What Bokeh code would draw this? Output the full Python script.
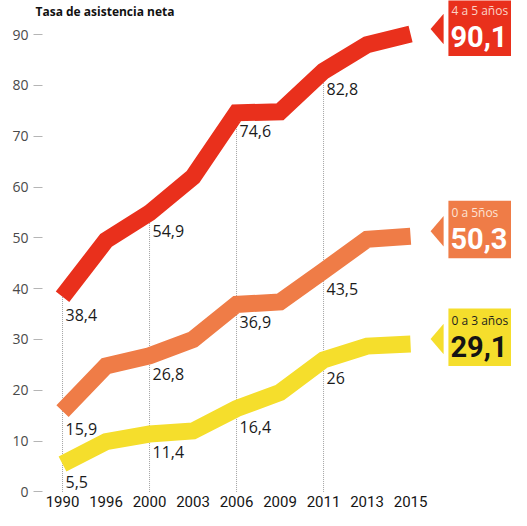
from bokeh.plotting import figure
from bokeh.models import FixedTicker, Range1d
from bokeh.core.properties import value
from bokeh.embed import file_html
from bokeh.resources import INLINE

# ---- data ----
years = ["1990", "1996", "2000", "2003", "2006", "2009", "2011", "2013", "2015"]
red_4a5 = [38.4, 49.5, 54.9, 62.0, 74.6, 74.8, 82.8, 88.0, 90.1]
orange_0a5 = [15.9, 24.8, 26.8, 30.0, 36.9, 37.4, 43.5, 49.7, 50.3]
yellow_0a3 = [5.5, 9.9, 11.4, 12.0, 16.4, 19.6, 26.0, 28.7, 29.1]
series_names = ["4 a 5 años", "0 a 5ños", "0 a 3 años"]
labeled_idx = [0, 2, 4, 6]
y_ticks = [0, 10, 20, 30, 40, 50, 60, 70, 80, 90]
title_text = "Tasa de asistencia neta"

series = [red_4a5, orange_0a5, yellow_0a3]
colors = ["#e9301c", "#ef7c47", "#f5de2c"]
small_colors = ["#fbd3c6", "#fde3d4", "#1e1e1e"]
big_colors = ["#ffffff", "#ffffff", "#141414"]

xs = list(range(len(years)))
last = xs[-1]

Y0, Y1 = -0.5, 96.7
PX_PER_UNIT = 5.07
p = figure(width=511, height=510, output_backend="svg", toolbar_location=None,
           x_range=Range1d(-0.667, 10.32), y_range=Range1d(Y0, Y1),
           min_border_left=33, min_border_right=0, min_border_top=0,
           min_border_bottom=16)
p.outline_line_color = None
p.grid.visible = False
p.background_fill_color = "white"
p.border_fill_color = "white"

# y axis
p.yaxis.ticker = FixedTicker(ticks=y_ticks)
p.yaxis.axis_line_color = None
p.yaxis.major_tick_out = 0
p.yaxis.major_tick_in = 9
p.yaxis.minor_tick_line_color = None
p.yaxis.major_tick_line_color = "#b5b5b5"
p.yaxis.major_label_standoff = 5
p.yaxis.major_label_text_font = "Open Sans"
p.yaxis.major_label_text_font_size = "14px"
p.yaxis.major_label_text_color = "#4a4a4a"

# x axis
p.xaxis.ticker = FixedTicker(ticks=xs)
p.xaxis.major_label_overrides = {i: y for i, y in zip(xs, years)}
p.xaxis.axis_line_color = None
p.xaxis.major_tick_line_color = None
p.xaxis.minor_tick_line_color = None
p.xaxis.major_tick_out = 0
p.xaxis.major_tick_in = 0
p.xaxis.major_label_standoff = 1
p.xaxis.major_label_text_font = "Roboto"
p.xaxis.major_label_text_font_size = "15px"
p.xaxis.major_label_text_color = "#151515"

# dotted reference verticals
p.segment(x0=[xs[i] for i in labeled_idx], x1=[xs[i] for i in labeled_idx],
          y0=[0] * len(labeled_idx), y1=[red_4a5[i] for i in labeled_idx],
          line_color="#8a8a8a", line_width=0.8, line_dash="1 1")

# thick lines
for vals, col in zip(series, colors):
    p.line(xs, vals, line_width=17, line_color=col, line_join="miter", line_cap="butt")

# value labels
def fmt(v):
    return f"{v:g}".replace(".", ",")

for vals in series:
    p.text(x=[xs[i] for i in labeled_idx], y=[vals[i] for i in labeled_idx],
           text=[fmt(vals[i]) for i in labeled_idx],
           text_font=value("Open Sans"), text_font_size="16px",
           text_color="#1b1b1b", text_baseline="middle", text_align="left",
           x_offset=3, y_offset=18)

# end boxes with pointer
tip_x = last + 0.46
base_x = last + 0.76
box_l = last + 0.87
ends = [s[-1] for s in series]
p.patches(xs=[[tip_x, base_x, base_x] for _ in ends],
          ys=[[v + 1, v + 4, v - 2] for v in ends],
          fill_color=colors, line_color=None)
p.quad(left=[box_l] * 3, right=[last + 3] * 3,
       bottom=[v - 4.3 for v in ends], top=[v + 7 for v in ends],
       fill_color=colors, line_color=None)
for v, name, sc, bc in zip(ends, series_names, small_colors, big_colors):
    p.text(x=[box_l], y=[v + 4.7], text=[name], text_font=value("Open Sans"),
           text_font_size="12px", text_color=sc, text_baseline="middle",
           text_align="left", x_offset=3)
    p.text(x=[box_l], y=[v - 0.4], text=[fmt(v)], text_font=value("Roboto"),
           text_font_size="29px", text_font_style="bold", text_color=bc,
           text_baseline="middle", text_align="left", x_offset=2)

# title at the very top-left of the plotting area
p.text(x=[-0.667], y=[Y1 - 2 / PX_PER_UNIT], text=[title_text],
       text_font=value("Open Sans"), text_font_size="12px",
       text_font_style="bold", text_color="#111111",
       text_baseline="top", text_align="left", x_offset=2)

open("out.html", "w").write(file_html(p, INLINE))
